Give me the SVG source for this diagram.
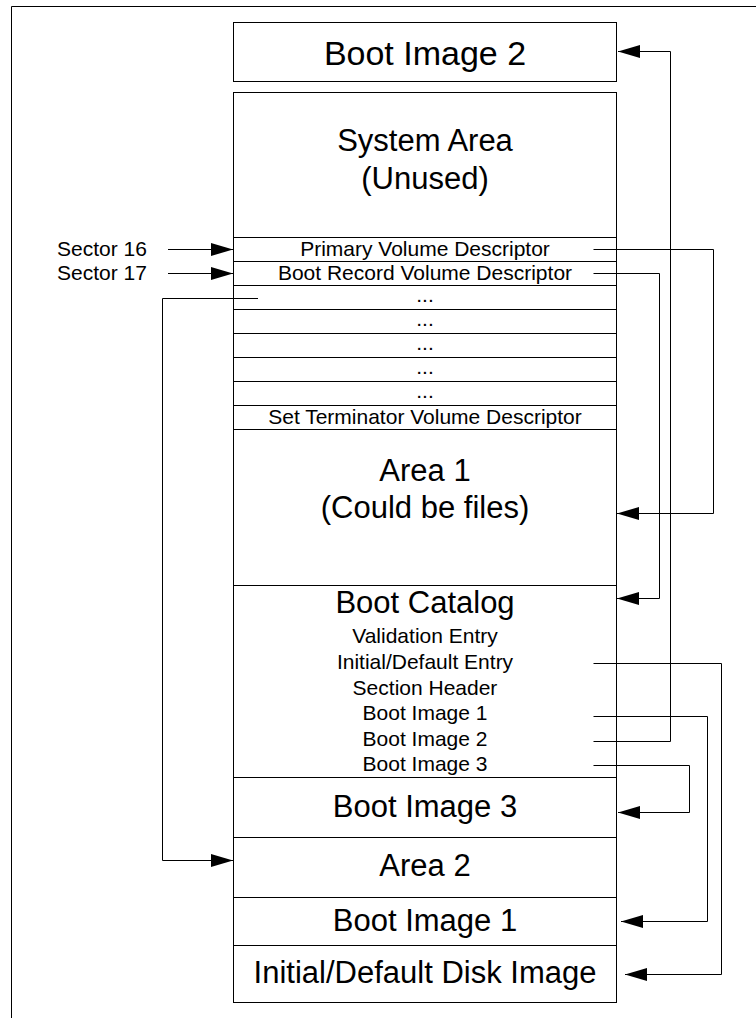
<svg xmlns="http://www.w3.org/2000/svg" width="756" height="1018" viewBox="0 0 756 1018">
<style>
  .box { fill: #ffffff; stroke: #000000; stroke-width: 1; }
  .big { font-family: "Liberation Sans", Arial, sans-serif; font-size: 31px; fill: #000000; text-anchor: middle; }
  .small { font-family: "Liberation Sans", Arial, sans-serif; font-size: 21px; fill: #000000; text-anchor: middle; }
  .label { font-family: "Liberation Sans", Arial, sans-serif; font-size: 21px; fill: #000000; text-anchor: start; }
  .conn { fill: none; stroke: #000000; stroke-width: 1; marker-end: url(#arrow); }
  .frame { fill: none; stroke: #000000; stroke-width: 1; }
</style>
<defs>
  <marker id="arrow" markerUnits="userSpaceOnUse" markerWidth="23" markerHeight="14" refX="22" refY="6.5" orient="auto">
    <path d="M0,0 L22,6.5 L0,13 z" fill="#000000"/>
  </marker>
</defs>
<rect width="756" height="1018" fill="#ffffff"/>
<g id="frame">
  <path class="frame" d="M11.5,1018 V6.5 H756"/>
</g>

<g id="boot-image-2-top">
  <rect class="box" x="233.5" y="22.5" width="383" height="59"/>
  <text class="big" x="425" y="65" style="font-size:34px">Boot Image 2</text>
</g>
<g id="system-area">
  <rect class="box" x="233.5" y="92.5" width="383" height="145"/>
  <text class="big" x="425" y="151">System Area</text>
  <text class="big" x="425" y="189">(Unused)</text>
</g>
<g id="pvd">
  <rect class="box" x="233.5" y="237.5" width="383" height="24"/>
  <text class="small" x="425" y="256">Primary Volume Descriptor</text>
</g>
<g id="brvd">
  <rect class="box" x="233.5" y="261.5" width="383" height="24"/>
  <text class="small" x="425" y="280">Boot Record Volume Descriptor</text>
</g>
<g id="dots-1">
  <rect class="box" x="233.5" y="285.5" width="383" height="24"/>
  <text class="small" x="425" y="302">...</text>
</g>
<g id="dots-2">
  <rect class="box" x="233.5" y="309.5" width="383" height="24"/>
  <text class="small" x="425" y="326">...</text>
</g>
<g id="dots-3">
  <rect class="box" x="233.5" y="333.5" width="383" height="24"/>
  <text class="small" x="425" y="350">...</text>
</g>
<g id="dots-4">
  <rect class="box" x="233.5" y="357.5" width="383" height="24"/>
  <text class="small" x="425" y="374">...</text>
</g>
<g id="dots-5">
  <rect class="box" x="233.5" y="381.5" width="383" height="24"/>
  <text class="small" x="425" y="398">...</text>
</g>
<g id="set-terminator">
  <rect class="box" x="233.5" y="405.5" width="383" height="24"/>
  <text class="small" x="425" y="424">Set Terminator Volume Descriptor</text>
</g>
<g id="area-1">
  <rect class="box" x="233.5" y="429.5" width="383" height="156"/>
  <text class="big" x="425" y="481">Area 1</text>
  <text class="big" x="425" y="518">(Could be files)</text>
</g>
<g id="boot-catalog">
  <rect class="box" x="233.5" y="585.5" width="383" height="192"/>
  <text class="big" x="425" y="613">Boot Catalog</text>
  <text class="small" x="425" y="643">Validation Entry</text>
  <text class="small" x="425" y="669">Initial/Default Entry</text>
  <text class="small" x="425" y="695">Section Header</text>
  <text class="small" x="425" y="720">Boot Image 1</text>
  <text class="small" x="425" y="746">Boot Image 2</text>
  <text class="small" x="425" y="771">Boot Image 3</text>
</g>
<g id="boot-image-3">
  <rect class="box" x="233.5" y="777.5" width="383" height="60"/>
  <text class="big" x="425" y="817">Boot Image 3</text>
</g>
<g id="area-2">
  <rect class="box" x="233.5" y="837.5" width="383" height="60"/>
  <text class="big" x="425" y="876">Area 2</text>
</g>
<g id="boot-image-1">
  <rect class="box" x="233.5" y="897.5" width="383" height="48"/>
  <text class="big" x="425" y="931">Boot Image 1</text>
</g>
<g id="initial-default-disk-image">
  <rect class="box" x="233.5" y="945.5" width="383" height="57"/>
  <text class="big" x="425" y="983">Initial/Default Disk Image</text>
</g>

<g id="sector-labels">
  <text class="label" x="57" y="256">Sector 16</text>
  <text class="label" x="57" y="280">Sector 17</text>
</g>

<g id="connectors">
  <path class="conn" d="M168,249.5 H233"/>
  <path class="conn" d="M168,273.5 H233"/>
  <path class="conn" d="M593.5,741.5 H670.5 V51.5 H618"/>
  <path class="conn" d="M593.5,249.5 H713.5 V513.5 H617"/>
  <path class="conn" d="M593.5,273.5 H659.5 V598.5 H617"/>
  <path class="conn" d="M593.5,663.5 H721.5 V974.5 H625"/>
  <path class="conn" d="M593.5,716.5 H707.5 V921.5 H621"/>
  <path class="conn" d="M593.5,765.5 H689.5 V812.5 H618"/>
  <path class="conn" d="M258,298.5 H162.5 V860.5 H233"/>
</g>
</svg>
